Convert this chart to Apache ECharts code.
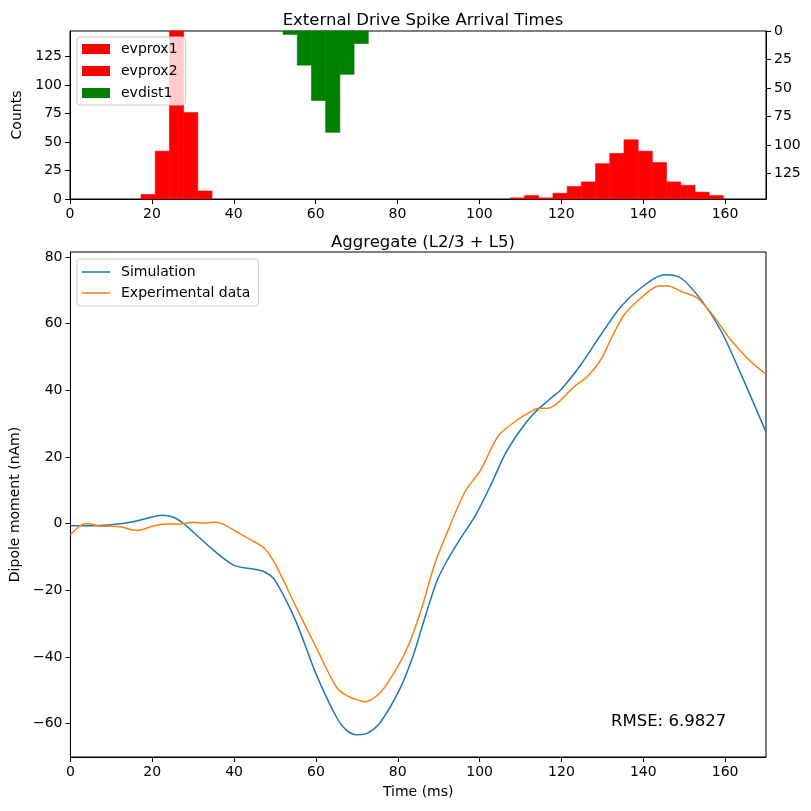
<!DOCTYPE html>
<html>
<head>
<meta charset="utf-8">
<script src="https://cdn.jsdelivr.net/npm/echarts@6/dist/echarts.min.js"></script>
<style>
  html, body { margin: 0; padding: 0; background: #fff; }
  #main { width: 811px; height: 811px; }
</style>
</head>
<body>
<div id="main"></div>
<script>
// histogram bins: 49 equal bins between 0 and 170 ms
var binWidth = 170 / 49;
var evprox1Bins = [5, 6, 7, 8, 9];
var evprox1Counts = [4, 42, 150, 76, 7];
var evprox2Bins = [31, 32, 33, 34, 35, 36, 37, 38, 39, 40, 41, 42, 43, 44, 45];
var evprox2Counts = [1, 3, 1, 5, 11, 15, 31, 40, 52, 42, 32, 15, 12, 6, 3];
var evdist1Bins = [15, 16, 17, 18, 19, 20];
var evdist1Counts = [3, 30, 61, 89, 38, 11];

// dipole traces (ms, nAm)
var simTime = [0, 5, 10, 15, 20, 22.5, 25, 27.5, 30, 35, 40, 45, 47.5, 50, 55, 60, 65, 67.5, 70, 72.5,
  75.8, 80.7, 83.9, 86.4, 89.6, 92.1, 95.3, 99, 102.7, 106.3, 110, 113.3, 116.9, 119.8, 124.7,
  129.6, 134.5, 139.4, 145.1, 149.2, 154.1, 158.9, 163.8, 170];
var simDipole = [-0.6, -0.6, -0.3, 0.5, 2.0, 2.5, 2.0, 0.2, -2.5, -8, -12.5, -13.7, -14.5, -17, -29, -45, -58, -62, -63.3, -62.9,
  -59.5, -49.1, -39.1, -29.1, -17.1, -11.0, -4.5, 2.5, 11.5, 21.0, 28.1, 33.1, 37.1, 40.1, 47.6,
  56.6, 65.1, 70.7, 74.7, 73.7, 67.2, 58.1, 45.1, 27.5];
var expTime = [0, 2, 3.5, 5, 7.5, 10, 12.5, 15, 16.5, 20, 22.5, 25, 27.5, 30, 32.5, 35, 37, 40, 45, 47.5,
  50, 55, 60, 65, 67.5, 70, 72, 75.8, 79.9, 83.1, 86.4, 88.8, 91.3, 96.4, 100.2, 103.5, 105.1,
  109.2, 112.5, 114.5, 116.5, 119, 123.1, 126.3, 129.6, 132, 135.3, 139.4, 143.5, 145.9, 149.2, 153.2,
  157.3, 161.4, 166.3, 170];
var expDipole = [-3.3, -1, 0, -0.1, -0.8, -0.8, -1, -1.8, -2, -0.8, -0.2, -0.1, 0, 0.4, 0.2, 0.4, 0, -2, -5.5, -7.5,
  -12, -24.6, -37, -49, -51.6, -52.8, -53.4, -50.6, -43.1, -35.1, -23.1, -13.0, -5, 9.5, 16, 24.1, 27.1,
  31.1, 33.6, 34.6, 34.6, 36.1, 41.1, 44.1, 49.1, 55.1, 62.6, 67.7, 71.2, 71.4, 69.7, 67.7,
  62.1, 55.1, 48.6, 44.9];

var timeTicks = [0, 20, 40, 60, 80, 100, 120, 140, 160];
var countTicks = [0, 25, 50, 75, 100, 125];
var dipoleTicks = [-60, -40, -20, 0, 20, 40, 60, 80];
var rmseText = 'RMSE: 6.9827';

var FONT = 'DejaVu Sans';

function binData(bins, counts) {
  var out = [];
  for (var i = 0; i < bins.length; i++) {
    out.push([bins[i] * binWidth, (bins[i] + 1) * binWidth, counts[i]]);
  }
  return out;
}

function renderBin(params, api) {
  var p0 = api.coord([api.value(0), 0]);
  var p1 = api.coord([api.value(1), api.value(2)]);
  var rect = echarts.graphic.clipRectByRect({
    x: p0[0],
    y: Math.min(p0[1], p1[1]),
    width: p1[0] - p0[0],
    height: Math.abs(p1[1] - p0[1])
  }, {
    x: params.coordSys.x,
    y: params.coordSys.y,
    width: params.coordSys.width,
    height: params.coordSys.height
  });
  var color = api.visual('color');
  return rect && {
    type: 'rect',
    shape: rect,
    style: { fill: color, stroke: color, lineWidth: 0.6 }
  };
}

function zip(a, b) {
  var out = [];
  for (var i = 0; i < a.length; i++) out.push([a[i], b[i]]);
  return out;
}

function minusFmt(v) {
  return String(v).replace('-', '\u2212');
}

var axisBase = {
  axisLine: { show: true, onZero: false, lineStyle: { color: '#000', width: 1 } },
  axisTick: { show: true, length: 5, lineStyle: { color: '#000' } },
  axisLabel: { color: '#000', fontSize: 14, fontFamily: FONT, margin: 8 },
  splitLine: { show: false },
  nameTextStyle: { color: '#000', fontSize: 14, fontFamily: FONT }
};

function axis(extra) {
  var o = JSON.parse(JSON.stringify(axisBase));
  for (var k in extra) {
    if (typeof extra[k] === 'object' && !Array.isArray(extra[k]) && o[k]) {
      for (var j in extra[k]) o[k][j] = extra[k][j];
    } else {
      o[k] = extra[k];
    }
  }
  return o;
}

var myChart = echarts.init(document.getElementById('main'), null, { renderer: 'canvas' });

var option = {
  animation: false,
  backgroundColor: '#fff',
  title: [{
    text: 'External Drive Spike Arrival Times',
    left: 418, top: 7, textAlign: 'center',
    textStyle: { fontSize: 16.5, fontWeight: 'normal', color: '#000', fontFamily: FONT }
  }, {
    text: 'Aggregate (L2/3 + L5)',
    left: 418, top: 229, textAlign: 'center',
    textStyle: { fontSize: 16.5, fontWeight: 'normal', color: '#000', fontFamily: FONT }
  }],
  grid: [{
    left: 70, top: 31, width: 696, height: 168,
    show: true, borderColor: '#000', borderWidth: 1
  }, {
    left: 70, top: 252, width: 696, height: 505,
    show: true, borderColor: '#000', borderWidth: 1
  }],
  legend: [{
    data: ['evprox1', 'evprox2', 'evdist1'],
    orient: 'vertical',
    left: 77, top: 37,
    padding: [5, 8, 5, 5],
    itemGap: 8,
    itemWidth: 28, itemHeight: 10,
    icon: 'rect',
    backgroundColor: 'rgba(255,255,255,0.8)',
    borderColor: '#cccccc', borderWidth: 1, borderRadius: 3,
    textStyle: { fontSize: 14, color: '#000', fontFamily: FONT, padding: [0, 0, 0, 6] }
  }, {
    data: ['Simulation', 'Experimental data'],
    orient: 'vertical',
    left: 77, top: 259,
    padding: [6, 8, 6, 5],
    itemGap: 7,
    itemWidth: 28, itemHeight: 1.5,
    icon: 'rect',
    backgroundColor: 'rgba(255,255,255,0.8)',
    borderColor: '#cccccc', borderWidth: 1, borderRadius: 3,
    textStyle: { fontSize: 14, color: '#000', fontFamily: FONT, padding: [0, 0, 0, 6] }
  }],
  xAxis: [
    axis({ type: 'value', gridIndex: 0, min: 0, max: 170,
      axisTick: { customValues: timeTicks }, axisLabel: { customValues: timeTicks } }),
    axis({ type: 'value', gridIndex: 1, min: 0, max: 170,
      name: 'Time (ms)', nameLocation: 'middle', nameGap: 28,
      axisTick: { customValues: timeTicks }, axisLabel: { customValues: timeTicks } })
  ],
  yAxis: [
    axis({ type: 'value', gridIndex: 0, min: 0, max: 147.5,
      name: 'Counts', nameLocation: 'middle', nameGap: 41,
      axisTick: { customValues: countTicks }, axisLabel: { customValues: countTicks } }),
    axis({ type: 'value', gridIndex: 0, min: 0, max: 147.5, position: 'right', inverse: true,
      axisTick: { customValues: countTicks }, axisLabel: { customValues: countTicks } }),
    axis({ type: 'value', gridIndex: 1, min: -70, max: 81.5,
      name: 'Dipole moment (nAm)', nameLocation: 'middle', nameGap: 41,
      axisTick: { customValues: dipoleTicks },
      axisLabel: { customValues: dipoleTicks, formatter: minusFmt } })
  ],
  series: [{
    name: 'evprox1', type: 'custom', xAxisIndex: 0, yAxisIndex: 0,
    renderItem: renderBin, itemStyle: { color: '#ff0000' },
    encode: { x: [0, 1], y: 2 }, data: binData(evprox1Bins, evprox1Counts), z: 1
  }, {
    name: 'evprox2', type: 'custom', xAxisIndex: 0, yAxisIndex: 0,
    renderItem: renderBin, itemStyle: { color: '#ff0000' },
    encode: { x: [0, 1], y: 2 }, data: binData(evprox2Bins, evprox2Counts), z: 1
  }, {
    name: 'evdist1', type: 'custom', xAxisIndex: 0, yAxisIndex: 1,
    renderItem: renderBin, itemStyle: { color: '#008000' },
    encode: { x: [0, 1], y: 2 }, data: binData(evdist1Bins, evdist1Counts), z: 1
  }, {
    name: 'Simulation', type: 'line', xAxisIndex: 1, yAxisIndex: 2,
    data: zip(simTime, simDipole), smooth: 0.3, symbol: 'none',
    lineStyle: { color: '#1f77b4', width: 1.5 }, itemStyle: { color: '#1f77b4' }
  }, {
    name: 'Experimental data', type: 'line', xAxisIndex: 1, yAxisIndex: 2,
    data: zip(expTime, expDipole), smooth: 0.3, symbol: 'none',
    lineStyle: { color: '#ff7f0e', width: 1.5 }, itemStyle: { color: '#ff7f0e' }
  }],
  graphic: [{
    type: 'text',
    x: 611, y: 722,
    style: {
      text: rmseText, fontSize: 16.5, fontFamily: FONT, fill: '#000',
      verticalAlign: 'middle', align: 'left'
    }
  }]
};

myChart.setOption(option);
</script>
</body>
</html>
